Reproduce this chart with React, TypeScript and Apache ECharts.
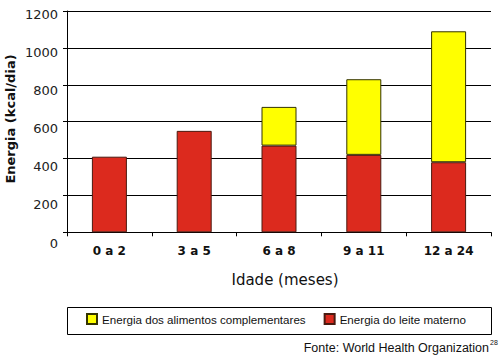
import React, { useEffect, useRef } from "react";
import * as echarts from "echarts";

const categories = ["0 a 2", "3 a 5", "6 a 8", "9 a 11", "12 a 24"];
const leiteMaterno = [410, 550, 470, 420, 380];
const alimentosComplementares: (number | string)[] = ["-", "-", 210, 410, 710];
const yTicks = { min: 0, max: 1200, interval: 200 };
const seriesNames = ["Energia dos alimentos complementares", "Energia do leite materno"];
const yTitle = "Energia (kcal/dia)";
const xTitle = "Idade (meses)";
const sourceText = "Fonte: World Health Organization";
const sourceSup = "28";

export default function App() {
  const ref = useRef<HTMLDivElement>(null);
  useEffect(() => {
    if (!ref.current) return;
    const chart = echarts.init(ref.current, null, { renderer: "svg" });
    chart.setOption({
      animation: false,
      backgroundColor: "#ffffff",
      grid: [
        { left: 67, right: 9, top: 11, bottom: 126.7, containLabel: false },
        { left: 67, right: 9, top: 14, bottom: 116, containLabel: false },
      ],
      xAxis: [
        {
          type: "category",
          gridIndex: 0,
          data: categories,
          boundaryGap: true,
          axisLine: { show: true, lineStyle: { color: "#000", width: 1 } },
          axisTick: { show: true, length: 4, alignWithLabel: false, lineStyle: { color: "#000" } },
          axisLabel: {
            margin: 13,
            color: "#111",
            fontFamily: "DejaVu Sans",
            fontWeight: "bold",
            fontSize: 12,
          },
        },
        { type: "category", gridIndex: 1, data: categories, show: false },
      ],
      yAxis: [
        {
          type: "value",
          gridIndex: 0,
          min: yTicks.min,
          max: yTicks.max,
          interval: yTicks.interval,
          axisLine: { show: true, lineStyle: { color: "#000", width: 1 } },
          axisTick: { show: true, length: 4, lineStyle: { color: "#000" } },
          axisLabel: { show: false },
          splitLine: { show: true, lineStyle: { color: "#000", width: 1 } },
        },
        {
          type: "value",
          gridIndex: 1,
          min: yTicks.min,
          max: yTicks.max,
          interval: yTicks.interval,
          axisLine: { show: false },
          axisTick: { show: false },
          splitLine: { show: false },
          axisLabel: {
            show: true,
            margin: 9,
            color: "#222",
            fontFamily: "DejaVu Sans",
            fontSize: 13,
            formatter: (v: number) => String(v),
          },
        },
      ],
      legend: {
        data: seriesNames,
        left: 86,
        top: 313,
        padding: 0,
        itemGap: 18,
        itemWidth: 10,
        itemHeight: 10,
        icon: "rect",
        textStyle: { fontFamily: "Liberation Sans", fontSize: 11.6, color: "#111" },
      },
      series: [
        {
          name: seriesNames[1],
          type: "bar",
          stack: "total",
          xAxisIndex: 0,
          yAxisIndex: 0,
          barWidth: 35,
          data: leiteMaterno,
          itemStyle: { color: "#dc2a1e", borderColor: "#4a1a10", borderWidth: 1 },
        },
        {
          name: seriesNames[0],
          type: "bar",
          stack: "total",
          xAxisIndex: 0,
          yAxisIndex: 0,
          barWidth: 35,
          data: alimentosComplementares,
          itemStyle: { color: "#ffff00", borderColor: "#333300", borderWidth: 1 },
        },
      ],
      graphic: [
        {
          type: "text",
          x: 10.5,
          y: 119,
          rotation: Math.PI / 2,
          style: {
            text: yTitle,
            fontFamily: "DejaVu Sans",
            fontWeight: "bold",
            fontSize: 13,
            fill: "#111",
            align: "center",
            verticalAlign: "middle",
          },
        },
        {
          type: "text",
          x: 285,
          y: 280,
          style: {
            text: xTitle,
            fontFamily: "DejaVu Sans",
            fontSize: 15,
            fill: "#111",
            align: "center",
            verticalAlign: "middle",
          },
        },
        {
          type: "rect",
          shape: { x: 67.5, y: 307.5, width: 424, height: 27 },
          style: { fill: "none", stroke: "#000", lineWidth: 1 },
          silent: true,
        },
        {
          type: "text",
          x: 489,
          y: 348,
          style: {
            text: sourceText,
            fontFamily: "Liberation Sans",
            fontSize: 12.5,
            fill: "#111",
            align: "right",
            verticalAlign: "middle",
          },
        },
        {
          type: "text",
          x: 490,
          y: 342,
          style: {
            text: sourceSup,
            fontFamily: "Liberation Sans",
            fontSize: 7,
            fill: "#111",
            align: "left",
            verticalAlign: "middle",
          },
        },
      ],
    });
    return () => chart.dispose();
  }, []);
  return (
    <div
      ref={ref}
      style={{ position: "fixed", left: 0, top: 0, width: 500, height: 359, background: "#fff" }}
    />
  );
}
